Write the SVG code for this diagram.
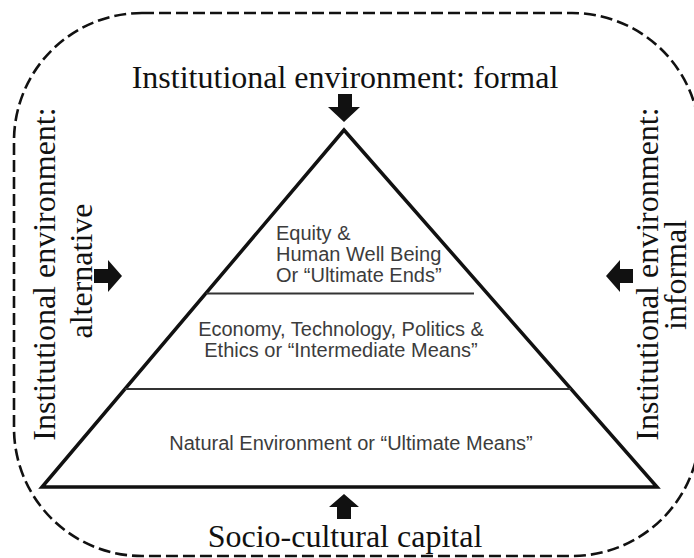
<svg xmlns="http://www.w3.org/2000/svg" width="694" height="558" viewBox="0 0 694 558">
  <style>
    .serif { font-family: "Liberation Serif", "Times New Roman", serif; font-size: 32px; fill: #111; }
    .sans { font-family: "Liberation Sans", Arial, sans-serif; font-size: 20px; fill: #3c3c3c; }
    .frame { fill: none; stroke: #111; stroke-width: 2.6; stroke-dasharray: 12 5; }
    .tri { fill: none; stroke: #111; stroke-width: 3.5; stroke-linejoin: miter; }
    .div { stroke: #333; stroke-width: 2.2; }
    .arrow { fill: #111; }
  </style>
  <rect width="694" height="558" fill="#fff"/>

  <!-- dashed boundary of the institutional setting -->
  <g id="boundary">
    <rect class="frame" x="14" y="13" width="686" height="543" rx="128" ry="128"/>
  </g>

  <!-- pyramid and its three tiers -->
  <g id="pyramid">
    <polygon class="tri" points="344,130 42,487 657,487"/>
  </g>
  <g id="tier-ends">
    <line class="div" x1="206" y1="293.5" x2="474" y2="293.5"/>
    <text class="sans" x="276" y="240">Equity &amp;</text>
    <text class="sans" x="276" y="261">Human Well Being</text>
    <text class="sans" x="276" y="282">Or “Ultimate Ends”</text>
  </g>
  <g id="tier-intermediate">
    <line class="div" x1="125" y1="389" x2="571" y2="389"/>
    <text class="sans" x="341" y="336" text-anchor="middle">Economy, Technology, Politics &amp;</text>
    <text class="sans" x="341" y="357" text-anchor="middle">Ethics or “Intermediate Means”</text>
  </g>
  <g id="tier-means">
    <text class="sans" x="351" y="450" text-anchor="middle">Natural Environment or “Ultimate Means”</text>
  </g>

  <!-- surrounding influences -->
  <g id="formal">
    <text class="serif" x="345" y="88" text-anchor="middle">Institutional environment: formal</text>
  </g>
  <g id="alternative">
    <text class="serif" transform="translate(55,274) rotate(-90)" text-anchor="middle">Institutional environment:</text>
    <text class="serif" transform="translate(92,271) rotate(-90)" text-anchor="middle">alternative</text>
  </g>
  <g id="informal">
    <text class="serif" transform="translate(658,274) rotate(-90)" text-anchor="middle">Institutional environment:</text>
    <text class="serif" transform="translate(686,275) rotate(-90)" text-anchor="middle">informal</text>
  </g>
  <g id="socio-cultural">
    <text class="serif" x="345" y="547" text-anchor="middle">Socio-cultural capital</text>
  </g>

  <!-- block arrows pointing at the pyramid -->
  <g id="connectors">
    <polygon class="arrow" points="338,94 352,94 352,107 360,107 344,122 328,107 338,107"/>
    <polygon class="arrow" points="344,494 359,507 351,507 351,519 337,519 337,507 329,507"/>
    <polygon class="arrow" points="94,269 108,269 108,260 122,276 108,292 108,283 94,283"/>
    <polygon class="arrow" points="633,269 620,269 620,260 606,276 620,292 620,283 633,283"/>
  </g>
</svg>
